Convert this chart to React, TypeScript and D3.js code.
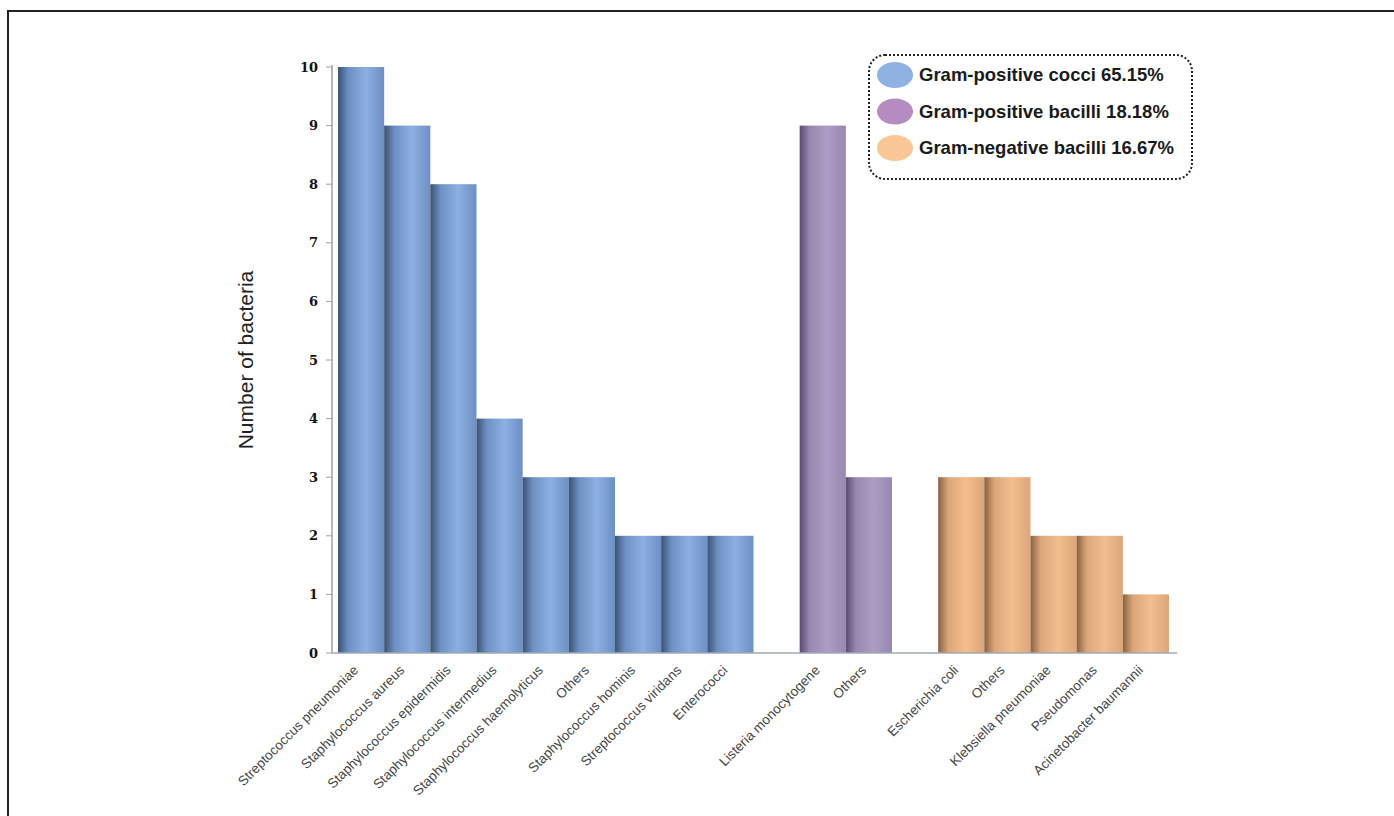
import React from "react";
import * as d3 from "d3";

const cocciNames = [
  "Streptococcus pneumoniae",
  "Staphylococcus aureus",
  "Staphylococcus epidermidis",
  "Staphylococcus intermedius",
  "Staphylococcus haemolyticus",
  "Others",
  "Staphylococcus hominis",
  "Streptococcus viridans",
  "Enterococci",
];
const cocciValues = [10, 9, 8, 4, 3, 3, 2, 2, 2];

const posBacilliNames = ["Listeria monocytogene", "Others"];
const posBacilliValues = [9, 3];

const negBacilliNames = [
  "Escherichia coli",
  "Others",
  "Klebsiella pneumoniae",
  "Pseudomonas",
  "Acinetobacter baumannii",
];
const negBacilliValues = [3, 3, 2, 2, 1];

const legendLabels = [
  "Gram-positive cocci 65.15%",
  "Gram-positive bacilli 18.18%",
  "Gram-negative bacilli 16.67%",
];
const yTicks = [0, 1, 2, 3, 4, 5, 6, 7, 8, 9, 10];

const groups = [
  { key: "gpc", names: cocciNames, values: cocciValues, dark: "#3c5273", mid: "#6d8fc2", light: "#8db0e2", legend: "#8fb2e3" },
  { key: "gpb", names: posBacilliNames, values: posBacilliValues, dark: "#5a4c6e", mid: "#9888b0", light: "#ab9dc4", legend: "#b58cc2" },
  { key: "gnb", names: negBacilliNames, values: negBacilliValues, dark: "#8a6140", mid: "#dba67a", light: "#f3bd8d", legend: "#f9c795" },
];

type Bar = { id: string; name: string; value: number; g: number };

export default function App() {
  const W = 1394, H = 816;
  const bars: Bar[] = [];
  const domain: string[] = [];
  groups.forEach((grp, gi) => {
    if (gi > 0) domain.push("gap" + gi);
    grp.names.forEach((n, i) => {
      const id = grp.key + i;
      domain.push(id);
      bars.push({ id, name: n, value: grp.values[i], g: gi });
    });
  });

  const x = d3.scaleBand<string>().domain(domain).range([338, 1169]).padding(0);
  const y = d3.scaleLinear().domain([0, 10]).range([653, 67]);
  const axisX = 332;
  const baseY = y(0);

  return (
    <svg width={W} height={H} style={{ position: "absolute", left: 0, top: 0, background: "#fff" }}>
      <defs>
        {groups.map((g) => (
          <linearGradient key={g.key} id={"grad-" + g.key} x1="0" x2="1" y1="0" y2="0">
            <stop offset="0%" stopColor={g.dark} />
            <stop offset="22%" stopColor={g.mid} />
            <stop offset="60%" stopColor={g.light} />
            <stop offset="100%" stopColor={g.mid} />
          </linearGradient>
        ))}
      </defs>
      <rect x={8} y={11} width={W + 20} height={H + 20} fill="none" stroke="#222" strokeWidth={2} />

      {/* bars */}
      {bars.map((b) => (
        <rect
          key={b.id}
          x={x(b.id)!}
          y={y(b.value)}
          width={x.bandwidth()}
          height={baseY - y(b.value)}
          fill={`url(#grad-${groups[b.g].key})`}
        />
      ))}

      {/* axes */}
      <line x1={axisX} x2={axisX} y1={y(10) - 2} y2={baseY} stroke="#a0a0a0" strokeWidth={1.5} />
      <line x1={axisX} x2={1177} y1={baseY} y2={baseY} stroke="#a0a8b4" strokeWidth={1.5} />
      {yTicks.map((t) => (
        <g key={t}>
          <line x1={axisX - 6} x2={axisX} y1={y(t)} y2={y(t)} stroke="#a0a0a0" strokeWidth={1} />
          <text
            x={318}
            y={y(t)}
            dy="0.35em"
            textAnchor="end"
            fontFamily="DejaVu Serif"
            fontWeight="bold"
            fontSize={13}
            fill="#111"
          >
            {t}
          </text>
        </g>
      ))}

      <text
        transform={`translate(253,${(y(0) + y(10)) / 2}) rotate(-90)`}
        textAnchor="middle"
        fontFamily="Liberation Sans, Arial, sans-serif"
        fontSize={21}
        fill="#222"
      >
        Number of bacteria
      </text>

      {/* x labels */}
      {bars.map((b) => {
        const cx = x(b.id)! + x.bandwidth() / 2 - 2;
        return (
          <text
            key={"l" + b.id}
            transform={`translate(${cx},${baseY + 18}) rotate(-45)`}
            textAnchor="end"
            fontFamily="Liberation Sans, Arial, sans-serif"
            fontSize={13.5}
            fill="#444"
          >
            {b.name}
          </text>
        );
      })}

      {/* legend */}
      <rect x={869} y={55} width={323} height={124} rx={16} ry={16} fill="#fff" stroke="#222" strokeWidth={2} strokeDasharray="2,2" />
      {groups.map((g, i) => (
        <g key={"lg" + g.key}>
          <ellipse cx={895} cy={75 + i * 36.5} rx={18} ry={13} fill={g.legend} />
          <text
            x={919}
            y={75 + i * 36.5}
            dy="0.35em"
            fontFamily="Liberation Sans, Arial, sans-serif"
            fontWeight="bold"
            fontSize={18.5}
            fill="#1a1a1a"
          >
            {legendLabels[i]}
          </text>
        </g>
      ))}
    </svg>
  );
}
